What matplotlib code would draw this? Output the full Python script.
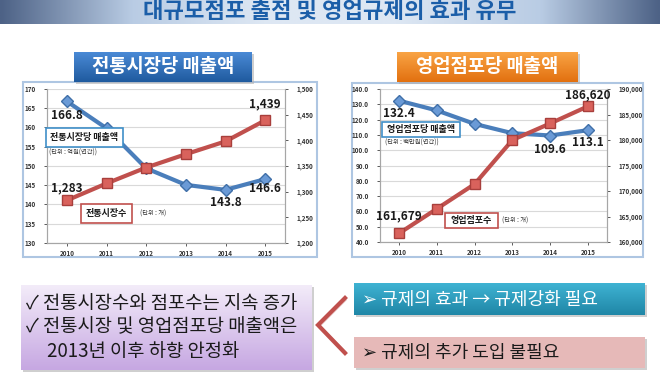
import numpy as np
import matplotlib
matplotlib.use('Agg')
import matplotlib.pyplot as plt
from matplotlib.patches import Rectangle
from matplotlib.ticker import FuncFormatter, MultipleLocator

plt.rcParams['font.family'] = ['Noto Sans CJK KR', 'DejaVu Sans']

# 데이터
years = ['2010', '2011', '2012', '2013', '2014', '2015']
market_sales = [166.8, 159.8, 149.4, 145.1, 143.8, 146.6]      # 전통시장당 매출액 (억원)
market_count = [1283, 1316, 1347, 1373, 1398, 1439]           # 전통시장수 (개)
store_sales = [132.4, 126.0, 117.2, 111.1, 109.6, 113.1]      # 영업점포당 매출액 (백만원)
store_count = [161679, 166500, 171350, 180000, 183250, 186620]  # 영업점포수 (개)

title = '대규모점포 출점 및 영업규제의 효과 유무'
left_title = '전통시장당 매출액'
right_title = '영업점포당 매출액'
bullets = ['✓ 전통시장수와 점포수는 지속 증가', '✓ 전통시장 및 영업점포당 매출액은', '2013년 이후 하향 안정화']
opt1 = '➢ 규제의 효과 → 규제강화 필요'
opt2 = '➢ 규제의 추가 도입 불필요'

W, H = 660, 379
fig = plt.figure(figsize=(W / 100, H / 100), dpi=100)
fig.patch.set_facecolor('white')

# 배경용 축 (픽셀 좌표)
bg = fig.add_axes([0, 0, 1, 1], zorder=0)
bg.axis('off')


def grad(ax, x0, y0, x1, y1, colors, stops, horizontal=False):
    n = 256
    t = np.linspace(0, 1, n)
    rgb = np.array([matplotlib.colors.to_rgb(c) for c in colors])
    arr = np.stack([np.interp(t, stops, rgb[:, k]) for k in range(3)], axis=-1)
    if horizontal:
        img = arr[None, :, :]
    else:
        img = arr[:, None, :]
    ax.imshow(img, extent=[x0, x1, y1, y0], aspect='auto', zorder=2,
              interpolation='bilinear')


def shadow(ax, x0, y0, x1, y1, d=2):
    ax.add_patch(Rectangle((x0 + d, y0 + d), x1 - x0, y1 - y0,
                           facecolor='#b0b0b0', edgecolor='none', zorder=1, alpha=0.6))


# 상단 배너
grad(bg, 0, 0, W, 24, ['#4d6286', '#b9cce4', '#dde7f3', '#dde7f3', '#b9cce4', '#4d6286'],
     [0, 0.2, 0.4, 0.6, 0.82, 1], horizontal=True)
bg.text(W / 2, 12, title, ha='center', va='center', fontsize=16, fontweight='bold',
        color='#1b5ea8', zorder=5)

# 차트 테두리
for (x0, y0, x1, y1) in [(23, 82, 317, 257), (352, 83, 643, 257)]:
    bg.add_patch(Rectangle((x0, y0), x1 - x0, y1 - y0, facecolor='white',
                           edgecolor='#aec6e2', linewidth=1.5, zorder=2))

# 하단 보라색 박스
shadow(bg, 21, 285, 312, 370)
grad(bg, 21, 285, 312, 370, ['#f3ecf9', '#c6a7e2'], [0, 1])
for i, line in enumerate(bullets):
    bg.text(26 if i < 2 else 47, 303 + i * 24, line, ha='left', va='center',
            fontsize=13.5, color='#1a1a1a', zorder=5)

# 청록 박스 / 분홍 박스
shadow(bg, 354, 283, 645, 315)
grad(bg, 354, 283, 645, 315, ['#3fb3d3', '#1f86a6'], [0, 1])
bg.text(362, 300, opt1, ha='left', va='center', fontsize=13, color='white', zorder=5)
shadow(bg, 354, 337, 645, 368)
bg.add_patch(Rectangle((354, 337), 291, 31, facecolor='#e6b9b8', edgecolor='none', zorder=2))
bg.text(362, 353, opt2, ha='left', va='center', fontsize=13, color='#1a1a1a', zorder=5)

# 화살표 모양 (<)
bg.plot([345, 318, 345], [298, 325, 353], color='#c0504d', linewidth=3,
        solid_joinstyle='miter', zorder=4)
bg.plot([346, 320, 346], [300, 326, 352], color='#e8c9c9', linewidth=1, zorder=3)

bg.set_xlim(0, W)
bg.set_ylim(H, 0)


def fr(x0, y0, x1, y1):
    return [x0 / W, 1 - y1 / H, (x1 - x0) / W, (y1 - y0) / H]


def draw_chart(rect, sales, count, ylim, ystep, y2lim, y2step, yfmt, y2fmt):
    ax = fig.add_axes(rect, zorder=2)
    ax.set_facecolor('white')
    x = np.arange(len(years))
    ax2 = ax.twinx()
    ax.plot(x, sales, color='#4a7ebb', linewidth=3, marker='D', markersize=6,
            markerfacecolor='#6a9ad6', markeredgecolor='#3f6fa8', zorder=3)
    ax2.plot(x, count, color='#c0504d', linewidth=3, marker='s', markersize=7.5,
             markerfacecolor='#d9625c', markeredgecolor='#a83f3c', zorder=3)
    ax.set_xlim(-0.5, len(years) - 0.5)
    ax.set_ylim(*ylim)
    ax2.set_ylim(*y2lim)
    ax.yaxis.set_major_locator(MultipleLocator(ystep))
    ax2.yaxis.set_major_locator(MultipleLocator(y2step))
    ax.yaxis.set_major_formatter(FuncFormatter(yfmt))
    ax2.yaxis.set_major_formatter(FuncFormatter(y2fmt))
    ax.set_xticks(x)
    ax.set_xticklabels(years)
    ax.grid(axis='y', color='#d9d9d9', linewidth=0.8)
    ax.set_axisbelow(True)
    for a in (ax, ax2):
        a.spines['top'].set_visible(False)
        for s in ('left', 'right', 'bottom'):
            a.spines[s].set_color('#a6a6a6')
            a.spines[s].set_linewidth(0.8)
        a.tick_params(labelsize=4.5, colors='#404040', length=2, width=0.6, pad=3,
                      labelcolor='#333333')
    for lbl in ax.get_xticklabels() + ax.get_yticklabels() + ax2.get_yticklabels():
        lbl.set_fontweight('bold')
    ax.tick_params(axis='y', pad=6)
    ax2.tick_params(axis='y', pad=6)
    return ax, ax2


def lbl(ax, x, y, text, dy):
    ax.annotate(text, (x, y), xytext=(0, dy), textcoords='offset points',
                ha='center', va='center', fontsize=8.5, fontweight='bold',
                color='#1a1a1a', zorder=6)


# 왼쪽 차트
axL, axL2 = draw_chart(fr(47, 89, 285, 243), market_sales, market_count,
                       (130, 170), 5, (1200, 1500), 50,
                       lambda v, p: '%d' % v, lambda v, p: '{:,.0f}'.format(v))
lbl(axL, 0, market_sales[0], '%.1f' % market_sales[0], -10)
lbl(axL, 4, market_sales[4], '%.1f' % market_sales[4], -9)
lbl(axL, 5, market_sales[5], '%.1f' % market_sales[5], -7)
lbl(axL2, 0, market_count[0], '{:,}'.format(market_count[0]), 9)
lbl(axL2, 5, market_count[5], '{:,}'.format(market_count[5]), 12)

# 오른쪽 차트
axR, axR2 = draw_chart(fr(380, 89, 607, 242), store_sales, store_count,
                       (40, 140), 10, (160000, 190000), 5000,
                       lambda v, p: '%.1f' % v, lambda v, p: '{:,.0f}'.format(v))
lbl(axR, 0, store_sales[0], '%.1f' % store_sales[0], -9)
lbl(axR, 4, store_sales[4], '%.1f' % store_sales[4], -10)
lbl(axR, 5, store_sales[5], '%.1f' % store_sales[5], -9)
lbl(axR2, 0, store_count[0], '{:,}'.format(store_count[0]), 13)
lbl(axR2, 5, store_count[5], '{:,}'.format(store_count[5]), 8)

# 전경 축 (범례 박스, 차트 제목)
fg = fig.add_axes([0, 0, 1, 1], zorder=10)
fg.patch.set_alpha(0)
fg.axis('off')

# 차트 제목 박스
shadow(fg, 74, 52, 252, 82)
grad(fg, 74, 52, 252, 82, ['#4a8ad6', '#1f5a9e'], [0, 1])
fg.text(163, 67, left_title, ha='center', va='center', fontsize=13.5,
        fontweight='bold', color='white', zorder=5)
shadow(fg, 397, 52, 578, 82)
grad(fg, 397, 52, 578, 82, ['#f9a445', '#e2700f'], [0, 1])
fg.text(487, 67, right_title, ha='center', va='center', fontsize=13.5,
        fontweight='bold', color='white', zorder=5)


def legend_box(x0, y0, x1, y1, text, ec):
    fg.add_patch(Rectangle((x0, y0), x1 - x0, y1 - y0, facecolor='white',
                           edgecolor=ec, linewidth=1.2, zorder=4))
    fg.text((x0 + x1) / 2, (y0 + y1) / 2, text, ha='center', va='center',
            fontsize=6.5, fontweight='bold', color='#1a1a1a', zorder=5)


legend_box(46, 128, 123, 147, '전통시장당 매출액', '#3f8fc8')
fg.text(49, 153, '(단위 : 억원(연간))', ha='left', va='center', fontsize=4.5,
        color='#333333', zorder=5)
legend_box(81, 204, 132, 223, '전통시장수', '#c0504d')
fg.text(140, 214, '(단위 : 개)', ha='left', va='center', fontsize=4.5,
        color='#333333', zorder=5)

legend_box(382, 122, 460, 137, '영업점포당 매출액', '#3f8fc8')
fg.text(385, 143, '(단위 : 백만원(연간))', ha='left', va='center', fontsize=4.5,
        color='#333333', zorder=5)
legend_box(445, 213, 498, 228, '영업점포수', '#c0504d')
fg.text(502, 221, '(단위 : 개)', ha='left', va='center', fontsize=4.5,
        color='#333333', zorder=5)

fg.set_xlim(0, W)
fg.set_ylim(H, 0)

fig.savefig('out.png', dpi=100)
